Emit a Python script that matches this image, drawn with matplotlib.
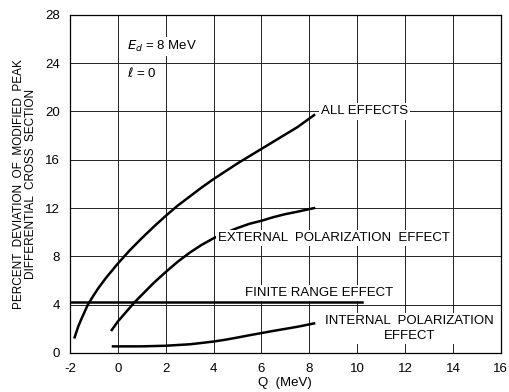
import matplotlib
matplotlib.use("Agg")
import matplotlib.pyplot as plt

plt.rcParams['font.family'] = ['Liberation Sans', 'DejaVu Sans']

# curves (Q in MeV, percent deviation)
all_q = [-1.8, -1.65, -1.5, -1.25, -1.0, -0.8, -0.5, 0.0, 0.5, 1.0, 1.5, 2.0, 2.5, 3.0,
         3.5, 4.0, 4.5, 5.0, 5.5, 6.0, 6.5, 7.0, 7.5, 8.2]
all_y = [1.3, 2.2, 2.9, 4.0, 4.8, 5.4, 6.2, 7.4, 8.5, 9.5, 10.45, 11.35, 12.2, 12.95,
         13.7, 14.4, 15.05, 15.7, 16.3, 16.9, 17.5, 18.1, 18.7, 19.7]

ext_q = [-0.25, 0.0, 0.35, 0.7, 1.0, 1.5, 2.0, 2.5, 3.0, 3.5, 4.0, 4.5, 5.0, 5.5,
         6.0, 6.5, 7.0, 7.5, 8.2]
ext_y = [1.9, 2.6, 3.4, 4.2, 4.8, 5.8, 6.7, 7.55, 8.3, 8.95, 9.5, 9.95, 10.35, 10.7,
         10.95, 11.25, 11.5, 11.7, 12.0]

fin_q = [-2.0, 10.2]
fin_y = [4.2, 4.2]

int_q = [-0.2, 1.0, 2.0, 3.0, 3.5, 4.0, 4.5, 5.0, 5.5, 6.0, 6.5, 7.0, 7.5, 8.2]
int_y = [0.55, 0.55, 0.6, 0.72, 0.83, 0.95, 1.1, 1.28, 1.47, 1.65, 1.83, 2.0, 2.17, 2.45]

x_ticks = list(range(-2, 17, 2))
y_ticks = list(range(0, 29, 4))

fig = plt.figure(figsize=(5.1, 3.92), dpi=100)
ax = fig.add_axes([0.137, 0.0995, 0.845, 0.8625])

ax.set_xlim(-2, 16)
ax.set_ylim(0, 28)
ax.set_xticks(x_ticks)
ax.set_yticks(y_ticks)
ax.set_xticklabels([str(t) for t in x_ticks], fontsize=9.5)
ax.set_yticklabels([str(t) for t in y_ticks], fontsize=9.5)
ax.tick_params(length=0, pad=7)
ax.grid(True, color="#222222", linewidth=0.7)
for s in ax.spines.values():
    s.set_linewidth(0.9)

lw = 1.8
ax.plot(all_q, all_y, color="black", lw=lw, zorder=3)
ax.plot(ext_q, ext_y, color="black", lw=lw, zorder=3)
ax.plot(fin_q, fin_y, color="black", lw=lw, zorder=3)
ax.plot(int_q, int_y, color="black", lw=lw, zorder=3)

box = dict(facecolor="white", edgecolor="none", pad=1.5)
kw = dict(fontsize=9.5, color="black", bbox=box, zorder=4)
ax.text(8.5, 20.0, "ALL EFFECTS", va="center", ha="left", **kw)
ax.text(4.2, 9.5, "EXTERNAL  POLARIZATION  EFFECT", va="center", ha="left", **kw)
ax.text(5.3, 5.0, "FINITE RANGE EFFECT", va="center", ha="left", **kw)
ax.text(12.2, 2.0, "INTERNAL  POLARIZATION\nEFFECT", va="center", ha="center",
        linespacing=1.3, **kw)

ax.text(0.4, 25.4, "$E_d$ = 8 MeV", va="center", ha="left", **kw)
ax.text(0.4, 23.2, "$\\ell$ = 0", va="center", ha="left", **kw)

ax.set_xlabel("Q  (MeV)", fontsize=9.5, labelpad=2)
ax.set_ylabel("PERCENT  DEVIATION  OF  MODIFIED  PEAK\nDIFFERENTIAL  CROSS  SECTION",
              fontsize=8.5, labelpad=6, linespacing=1.0)

fig.savefig("out.png", dpi=100)
